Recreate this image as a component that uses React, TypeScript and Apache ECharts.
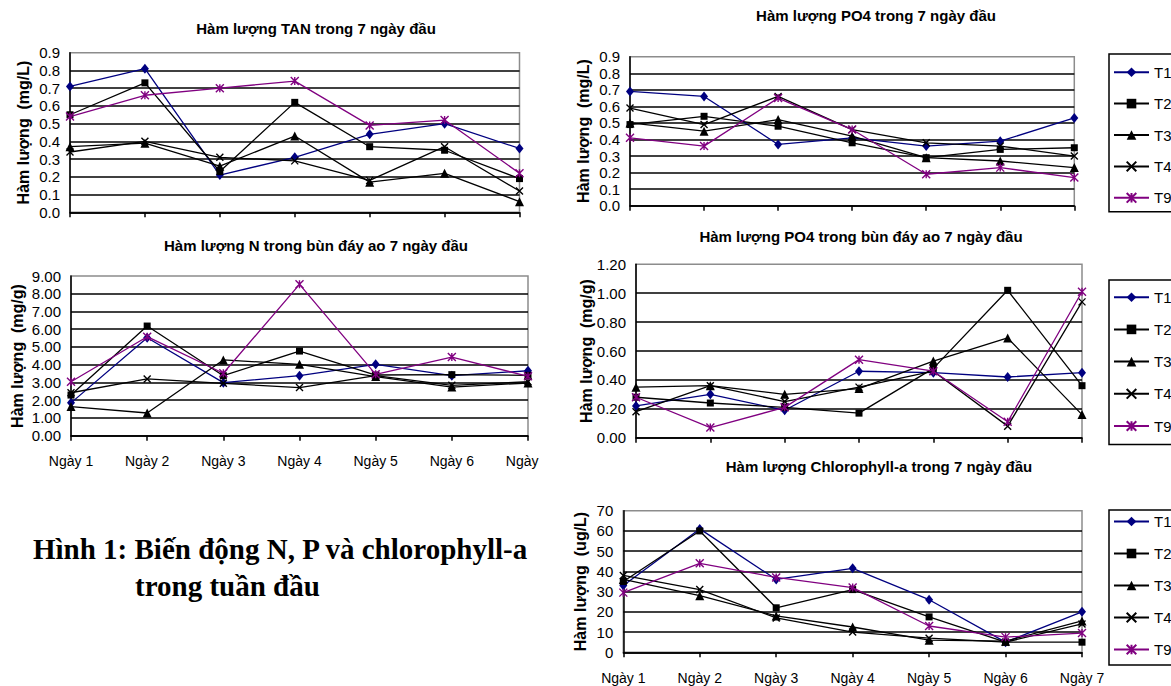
import React, { useEffect, useRef } from "react";
import * as echarts from "echarts";

// ---------- data ----------
const days = ["Ngày 1", "Ngày 2", "Ngày 3", "Ngày 4", "Ngày 5", "Ngày 6", "Ngày 7"];
const seriesNames = ["T1", "T2", "T3", "T4", "T9"];

// TAN (mg/L)
const tanT1 = [0.71, 0.81, 0.21, 0.31, 0.44, 0.5, 0.36];
const tanT2 = [0.55, 0.73, 0.23, 0.62, 0.37, 0.35, 0.19];
const tanT3 = [0.37, 0.39, 0.26, 0.43, 0.17, 0.22, 0.06];
const tanT4 = [0.34, 0.4, 0.31, 0.29, 0.18, 0.37, 0.12];
const tanT9 = [0.54, 0.66, 0.7, 0.74, 0.49, 0.52, 0.22];

// N in sediment (mg/g)
const nT1 = [1.85, 5.52, 2.99, 3.38, 4.02, 3.38, 3.66];
const nT2 = [2.29, 6.18, 3.38, 4.77, 3.42, 3.44, 3.4];
const nT3 = [1.64, 1.28, 4.27, 4.02, 3.33, 2.74, 2.97];
const nT4 = [2.42, 3.2, 2.95, 2.71, 3.38, 2.84, 3.04];
const nT9 = [3.04, 5.58, 3.52, 8.53, 3.46, 4.43, 3.35];

// PO4 (mg/L)
const poT1 = [0.69, 0.66, 0.37, 0.41, 0.36, 0.39, 0.53];
const poT2 = [0.49, 0.54, 0.48, 0.38, 0.29, 0.34, 0.35];
const poT3 = [0.5, 0.45, 0.52, 0.42, 0.29, 0.27, 0.23];
const poT4 = [0.59, 0.49, 0.66, 0.46, 0.38, 0.36, 0.3];
const poT9 = [0.41, 0.36, 0.65, 0.46, 0.19, 0.23, 0.17];

// PO4 in sediment (mg/g)
const psT1 = [0.22, 0.3, 0.19, 0.46, 0.45, 0.42, 0.45];
const psT2 = [0.28, 0.24, 0.21, 0.17, 0.48, 1.02, 0.36];
const psT3 = [0.35, 0.36, 0.3, 0.34, 0.53, 0.69, 0.16];
const psT4 = [0.18, 0.36, 0.25, 0.35, 0.46, 0.08, 0.94];
const psT9 = [0.28, 0.07, 0.21, 0.54, 0.46, 0.11, 1.01];

// Chlorophyll-a (ug/L)
const chT1 = [33, 61, 36, 41.5, 26, 5, 20];
const chT2 = [35, 60, 22, 31, 17.5, 5, 5];
const chT3 = [36, 28, 18, 12.5, 6, 5.5, 15.5];
const chT4 = [38, 31, 17, 10, 7, 5, 14];
const chT9 = [29.5, 44, 37, 32, 13, 7.5, 9.5];

const chartTitles = [
  "Hàm lượng TAN trong 7 ngày đầu",
  "Hàm lượng N trong bùn đáy ao 7 ngày đầu",
  "Hàm lượng PO4 trong 7 ngày đầu",
  "Hàm lượng PO4 trong bùn đáy ao 7 ngày đầu",
  "Hàm lượng Chlorophyll-a trong 7 ngày đầu",
];
const yTitles = [
  "Hàm lượng  (mg/L)",
  "Hàm lượng  (mg/g)",
  "Hàm lượng  (mg/L)",
  "Hàm lượng  (mg/g)",
  "Hàm lượng  (ug/L)",
];
const yMax = [0.9, 9, 0.9, 1.2, 70];
const yStep = [0.1, 1, 0.1, 0.2, 10];
const yDecimals = [1, 2, 1, 2, 0];
const captionLine1 = "Hình 1: Biến động N, P và chlorophyll-a";
const captionLine2 = "trong tuần đầu";

// ---------- layout / style ----------
const F = "'Liberation Sans', Arial, Helvetica, sans-serif";
const grids = [
  { left: 70, top: 52.7, width: 449.5, height: 159.6 },
  { left: 71, top: 276, width: 457, height: 159.7 },
  { left: 630, top: 56.7, width: 444.3, height: 149 },
  { left: 636, top: 264.3, width: 446, height: 173.4 },
  { left: 623.3, top: 510.7, width: 458.7, height: 141.6 },
];
const showXLabels = [false, true, false, false, true];
const xLabelMargin = [0, 18, 0, 0, 19];
// the last label of the N chart is cut after "Ngày" in the original figure
const hideLastDigit = [false, true, false, false, false];
const titlePos = [
  { x: 316, y: 28.3 },
  { x: 316, y: 245 },
  { x: 876, y: 15 },
  { x: 861, y: 236.7 },
  { x: 879, y: 466.7 },
];
const yTitlePos = [
  { x: 23, y: 132.5 },
  { x: 17, y: 356 },
  { x: 583, y: 131 },
  { x: 586, y: 351 },
  { x: 580, y: 581.5 },
];
const markerStyles = [
  { color: "#000080", symbol: "diamond", size: [8, 10], stroke: 0 },
  { color: "#000000", symbol: "rect", size: 7, stroke: 0 },
  { color: "#000000", symbol: "triangle", size: 9, stroke: 0 },
  { color: "#000000", symbol: "path://M0,0L10,10M10,0L0,10", size: 7, stroke: 1.4 },
  { color: "#800080", symbol: "path://M0,0L10,10M10,0L0,10M5,0L5,10", size: 8, stroke: 1.4 },
];

function buildOption() {
  const tables = [
    [tanT1, tanT2, tanT3, tanT4, tanT9],
    [nT1, nT2, nT3, nT4, nT9],
    [poT1, poT2, poT3, poT4, poT9],
    [psT1, psT2, psT3, psT4, psT9],
    [chT1, chT2, chT3, chT4, chT9],
  ];
  const series: any[] = [];
  tables.forEach((rows, gi) => {
    rows.forEach((d, si) => {
      const st = markerStyles[si];
      series.push({
        type: "line",
        name: seriesNames[si],
        xAxisIndex: gi,
        yAxisIndex: gi,
        data: d,
        symbol: st.symbol,
        symbolSize: st.size,
        showSymbol: true,
        showAllSymbol: true,
        clip: false,
        z: 2 + si,
        lineStyle: { color: st.color, width: 1.3 },
        itemStyle: { color: st.color, borderColor: st.color, borderWidth: st.stroke },
        emphasis: { disabled: true },
      });
    });
  });

  const xAxis = grids.map((_, i) => ({
    type: "category",
    gridIndex: i,
    data: days,
    boundaryGap: false,
    axisLine: { show: true, lineStyle: { color: "#000", width: 1.5 } },
    axisTick: { show: true, length: 5, inside: false, lineStyle: { color: "#000", width: 1.5 } },
    axisLabel: {
      show: showXLabels[i],
      interval: 0,
      fontSize: 14,
      fontFamily: F,
      color: "#000",
      margin: xLabelMargin[i],
      formatter: (v: string, idx: number) => {
        if (hideLastDigit[i] && idx === days.length - 1) {
          const cut = v.lastIndexOf(" ");
          return `{a|${v.slice(0, cut)}}{h|${v.slice(cut)}}`;
        }
        return `{a|${v}}`;
      },
      rich: {
        a: { fontSize: 14, fontFamily: F, color: "#000" },
        h: { fontSize: 14, fontFamily: F, color: "rgba(0,0,0,0)" },
      },
    },
    splitLine: { show: false },
  }));

  const yAxis = grids.map((_, i) => ({
    type: "value",
    gridIndex: i,
    min: 0,
    max: yMax[i],
    interval: yStep[i],
    axisLine: { show: true, lineStyle: { color: "#000", width: 1.5 } },
    axisTick: { show: false },
    axisLabel: {
      fontSize: 15,
      fontFamily: F,
      color: "#000",
      margin: 10,
      formatter: (v: number) => v.toFixed(yDecimals[i]),
    },
    splitLine: { show: true, showMaxLine: false, lineStyle: { color: "#000", width: 1.5 } },
  }));

  const grid = grids.map((g) => ({
    ...g,
    show: true,
    borderColor: "#8c8c8c",
    borderWidth: 1.5,
    backgroundColor: "transparent",
    containLabel: false,
    outerBoundsMode: "none",
  }));

  const title = chartTitles.map((t, i) => ({
    text: t,
    left: titlePos[i].x,
    top: titlePos[i].y - 8,
    textAlign: "center",
    padding: 0,
    textStyle: { fontSize: 15, fontWeight: "bold", fontFamily: F, color: "#000", lineHeight: 16 },
  }));

  const legendBase = {
    data: seriesNames,
    orient: "vertical",
    left: 1109,
    itemWidth: 35,
    itemHeight: 12,
    borderColor: "#000",
    borderWidth: 1.5,
    selectedMode: false,
    textStyle: { fontSize: 15, fontFamily: F, color: "#000", lineHeight: 12 },
  };
  const legend = [
    { ...legendBase, top: 54, padding: [10.7, 40, 6.4, 4], itemGap: 16.4 },
    { ...legendBase, top: 280, padding: [9.7, 40, 11, 4], itemGap: 17.2 },
    { ...legendBase, top: 510, padding: [4, 40, 8, 4], itemGap: 17 },
  ];

  const graphic: any[] = yTitles.map((t, i) => ({
    type: "text",
    x: yTitlePos[i].x,
    y: yTitlePos[i].y,
    rotation: Math.PI / 2,
    style: {
      text: t,
      font: `bold 16px ${F}`,
      fill: "#000",
      textAlign: "center",
      textVerticalAlign: "middle",
    },
  }));
  graphic.push({
    type: "text",
    x: 33,
    y: 549,
    style: {
      text: captionLine1,
      font: "bold 29px 'Liberation Serif', 'Times New Roman', serif",
      fill: "#000",
      textAlign: "left",
      textVerticalAlign: "middle",
    },
  });
  graphic.push({
    type: "text",
    x: 135,
    y: 586,
    style: {
      text: captionLine2,
      font: "bold 29px 'Liberation Serif', 'Times New Roman', serif",
      fill: "#000",
      textAlign: "left",
      textVerticalAlign: "middle",
    },
  });

  return {
    animation: false,
    backgroundColor: "#fff",
    title,
    legend,
    grid,
    xAxis,
    yAxis,
    series,
    graphic,
    tooltip: { show: false },
  };
}

export default function App() {
  const ref = useRef<HTMLDivElement>(null);
  useEffect(() => {
    if (!ref.current) return;
    const chart = echarts.init(ref.current, null, { renderer: "svg" });
    chart.setOption(buildOption() as any);
    return () => chart.dispose();
  }, []);
  return (
    <div
      ref={ref}
      style={{ position: "absolute", left: 0, top: 0, width: 1171, height: 686, background: "#fff" }}
    />
  );
}
